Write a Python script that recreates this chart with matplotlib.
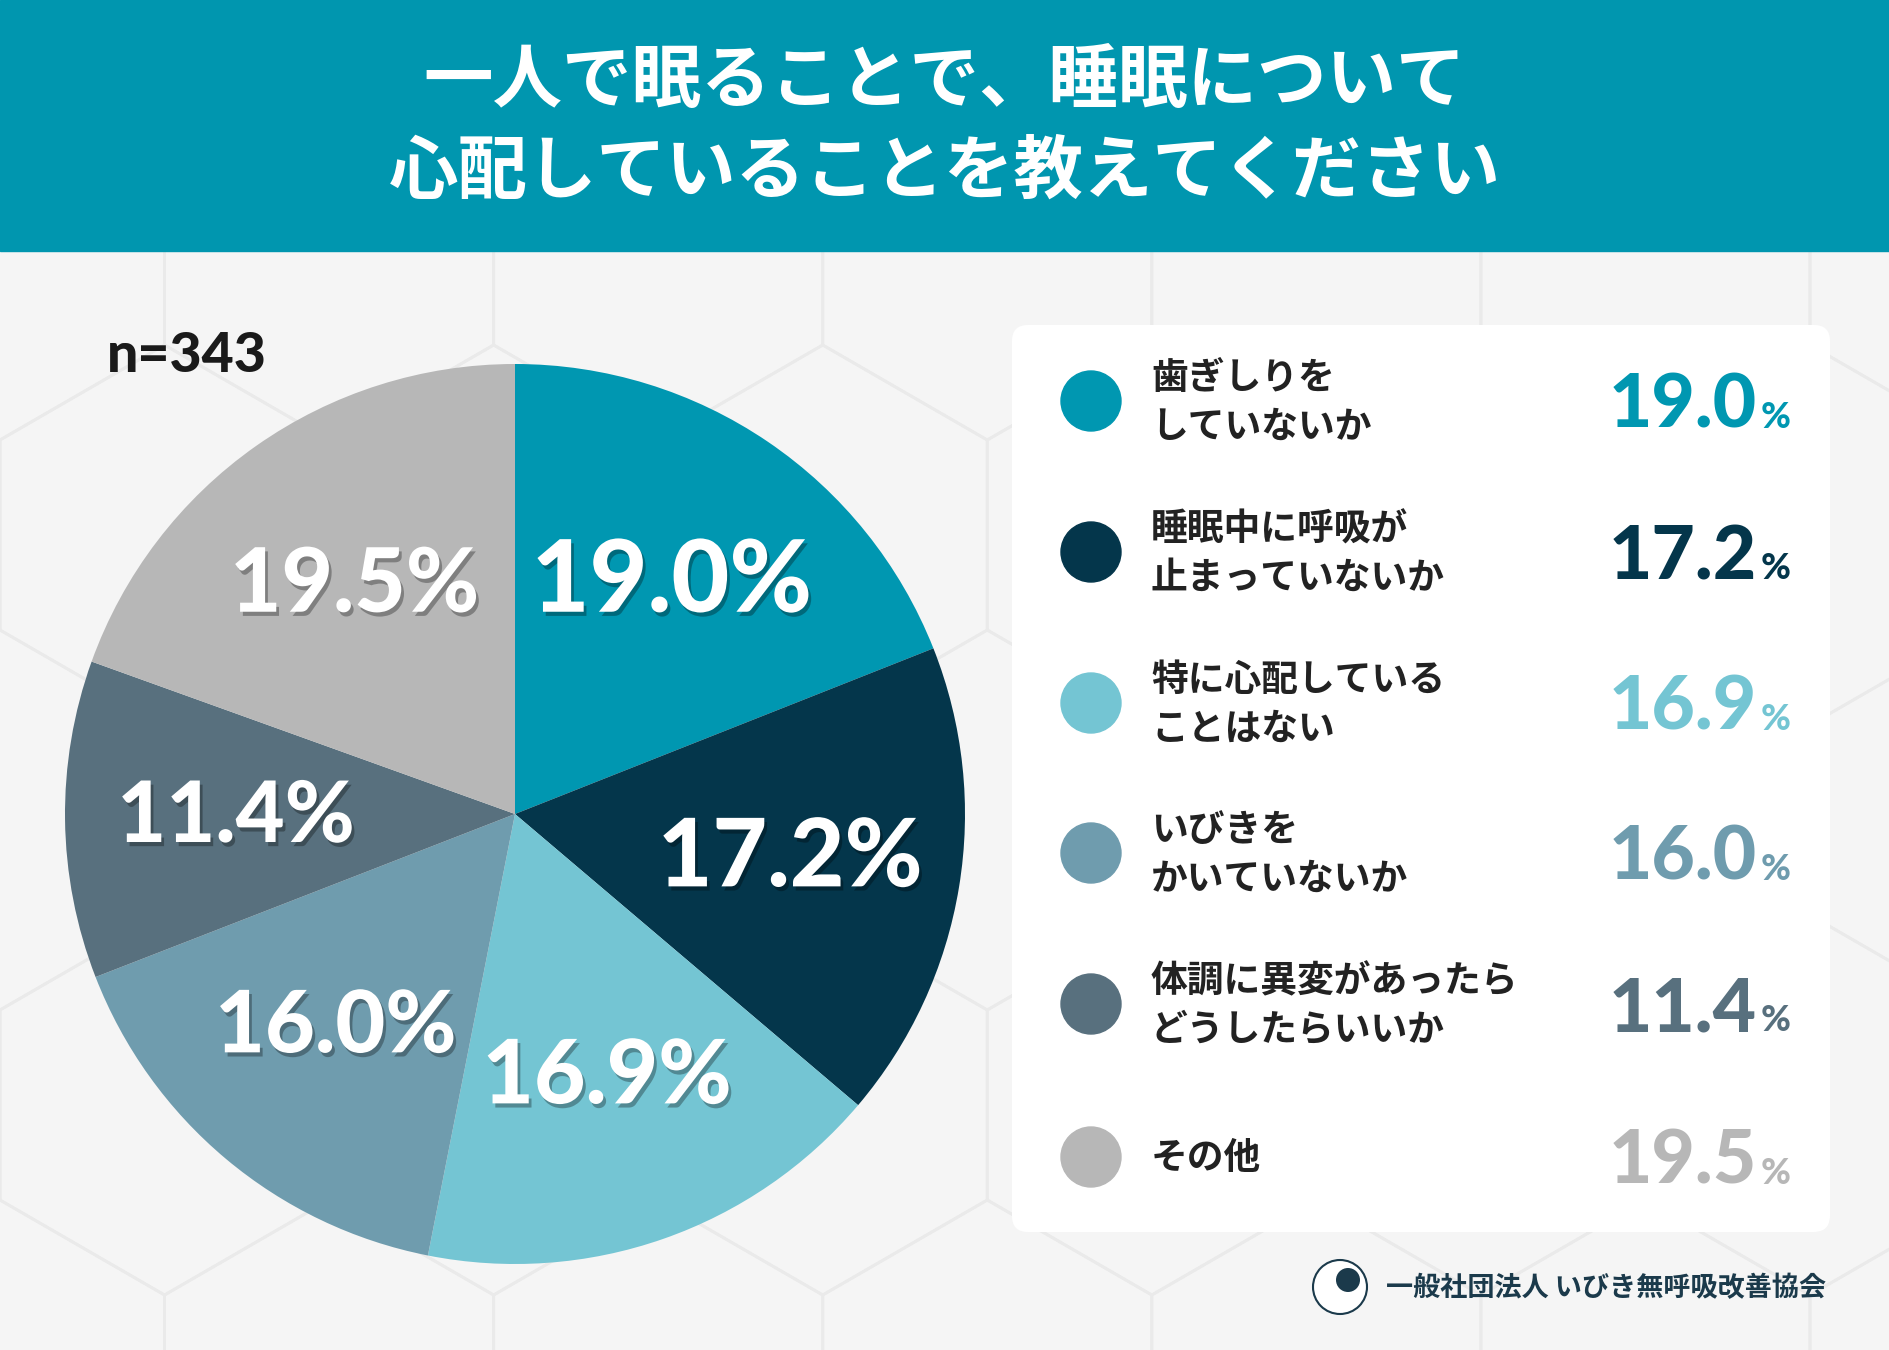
import numpy as np
import matplotlib
matplotlib.use("Agg")
import matplotlib.pyplot as plt
import matplotlib.patheffects as pe
from matplotlib.patches import Rectangle, FancyBboxPatch, Circle, RegularPolygon

plt.rcParams['font.family'] = ['Noto Sans CJK JP', 'DejaVu Sans']

title_lines = ['一人で眠ることで、睡眠について', '心配していることを教えてください']
labels = ['歯ぎしりを\nしていないか', '睡眠中に呼吸が\n止まっていないか', '特に心配している\nことはない',
          'いびきを\nかいていないか', '体調に異変があったら\nどうしたらいいか', 'その他']
values = [19.0, 17.2, 16.9, 16.0, 11.4, 19.5]
colors = ['#0097B1', '#04364B', '#74C5D3', '#6F9CAE', '#58707E', '#B7B7B7']
n_text = 'n=343'
footer = '一般社団法人 いびき無呼吸改善協会'

W, H = 1890, 1350
fig = plt.figure(figsize=(W / 100, H / 100), dpi=100)
bg = fig.add_axes([0, 0, 1, 1])
bg.set_xlim(0, W)
bg.set_ylim(H, 0)
bg.axis('off')

num_font = ['Lato', 'DejaVu Sans']

# background with faint hexagons
bg.add_patch(Rectangle((0, 0), W, H, color='#F5F5F5', zorder=0))
hr = 190
for row in range(-1, 8):
    for col in range(-1, 8):
        cx = col * hr * np.sqrt(3) + (row % 2) * hr * np.sqrt(3) / 2
        cy = 250 + row * hr * 1.5
        bg.add_patch(RegularPolygon((cx, cy), 6, radius=hr, orientation=0,
                                    facecolor='none', edgecolor='#EAEAEA', lw=2, zorder=1))

# header
bg.add_patch(Rectangle((0, 0), W, 251, color='#0096AF', zorder=2))
bg.text(W / 2, 82, title_lines[0], color='white', fontsize=50, fontweight='bold',
        ha='center', va='center', zorder=3)
bg.text(W / 2, 172, title_lines[1], color='white', fontsize=50, fontweight='bold',
        ha='center', va='center', zorder=3)

bg.text(107, 356, n_text, fontsize=40, fontweight='black', color='#1A1A1A',
        ha='left', va='center', family=num_font, zorder=3)

# legend panel
bg.add_patch(FancyBboxPatch((1018, 331), 812, 901, boxstyle='round,pad=0,rounding_size=16',
                            facecolor='#000000', alpha=0.04, edgecolor='none', zorder=2))
bg.add_patch(FancyBboxPatch((1012, 325), 818, 907, boxstyle='round,pad=0,rounding_size=16',
                            facecolor='white', edgecolor='none', zorder=3))
ys = [401, 552, 703, 853, 1004, 1157]
for y, lab, val, c in zip(ys, labels, values, colors):
    bg.add_patch(Circle((1091, y), 30, color=c, zorder=4))
    bg.text(1151, y + 2, lab, fontsize=26.5, fontweight='bold', color='#222222',
            ha='left', va='center', linespacing=1.4, zorder=4)
    bg.text(1757, y + 27, f'{val:.1f}', fontsize=54, fontweight='black', color=c,
            ha='right', va='baseline', family=num_font, zorder=4)
    bg.text(1791, y + 27, '%', fontsize=26, fontweight='black', color=c,
            ha='right', va='baseline', family=num_font, zorder=4)

# footer
bg.add_patch(Circle((1340, 1287), 27, facecolor='white', edgecolor='#1B3A4B', lw=1.5, zorder=3))
bg.add_patch(Circle((1348, 1280), 12, facecolor='#1B3A4B', edgecolor='none', zorder=3))
bg.text(1386, 1288, footer, fontsize=19.5, fontweight='bold', color='#1B3A4B',
        ha='left', va='center', zorder=3)

# pie
cx, cy, r = 515, 814, 450
pax = fig.add_axes([(cx - r) / W, (H - cy - r) / H, 2 * r / W, 2 * r / H])
wedges, _ = pax.pie(values, colors=colors, startangle=90, counterclock=False,
                    wedgeprops=dict(linewidth=0))
pax.set_xlim(-1, 1)
pax.set_ylim(-1, 1)
pax.set_aspect('equal')
pax.axis('off')

sizes = [72, 68, 64, 62, 61, 64]
shadow = [pe.SimplePatchShadow(offset=(2, -3), shadow_rgbFace='black', alpha=0.3), pe.Normal()]
for w, val, fs in zip(wedges, values, sizes):
    ang = np.deg2rad((w.theta1 + w.theta2) / 2)
    pax.text(0.62 * np.cos(ang), 0.62 * np.sin(ang), f'{val:.1f}%', fontsize=fs,
             fontweight='black', color='white', ha='center', va='center',
             family=num_font, path_effects=shadow)

fig.savefig('out.png', dpi=100)
